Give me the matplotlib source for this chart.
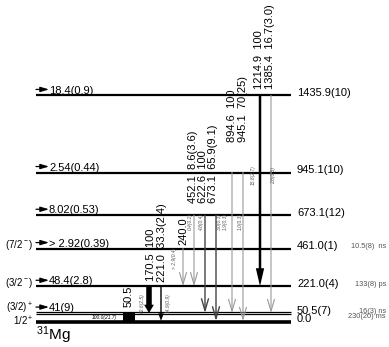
import matplotlib.pyplot as plt
import numpy as np

plt.rcParams['font.family'] = ['Liberation Sans', 'DejaVu Sans']
plt.rcParams['mathtext.fontset'] = 'custom'
plt.rcParams['mathtext.rm'] = 'Liberation Sans'
plt.rcParams['mathtext.it'] = 'Liberation Sans:italic'

# levels of 31Mg (keV)
level_energy = [0.0, 50.5, 221.0, 461.0, 673.1, 945.1, 1435.9]
level_label = ["0.0", "50.5(7)", "221.0(4)", "461.0(1)", "673.1(12)", "945.1(10)", "1435.9(10)"]
feeding = ["", "41(9)", "48.4(2.8)", "> 2.92(0.39)", "8.02(0.53)", "2.54(0.44)", "18.4(0.9)"]
spins = ["1/2$^+$", "(3/2)$^+$", "(3/2$^-$)", "(7/2$^-$)", "", "", ""]
lifetimes = ["230(20) ms", "16(3) ns", "133(8) ps", "10.5(8)  ns", "", "", ""]

# gamma transitions
gamma_energy = ["1214.9", "1385.4", "894.6", "945.1", "452.1", "622.6", "673.1", "240.0", "170.5", "221.0", "50.5"]
gamma_from = [1435.9, 1435.9, 945.1, 945.1, 673.1, 673.1, 673.1, 461.0, 221.0, 221.0, 50.5]
gamma_to = [221.0, 50.5, 50.5, 0.0, 221.0, 50.5, 0.0, 221.0, 50.5, 0.0, 0.0]
branching = ["100", "16.7(3.0)", "100", "70(25)", "8.6(3.6)", "100", "65.9(9.1)", "", "100", "33.3(2.4)", ""]
gamma_int = ["15.8(2.7)", "2.8(0.5)", "1.9(0.3)", "1.0(0.3)", "0.4(0.2)", "4.8(0.4)",
             "3.0(0.3)", "> 2.9(0.4)", "82.6(2.5)", "14.9(0.9)", "100.0(21.7)"]

# layout (pixels)
PX = 0.1571          # px per keV
Y0 = 321.0           # px of ground state
W, H = 389, 347


def e_at(p):
    return (Y0 - p) / PX


def dE(p):
    return p / PX


line_x = [260, 271, 232, 243, 194, 205, 216, 183, 149, 161, 129]
line_style = ['thick', 'gray', 'gray', 'gray', 'gray', 'dark', 'dark', 'gray', 'bar', 'black', 'block']
lab_pos = [(259, 89), (270, 89), (232, 142), (243, 142), (193, 203), (203, 203), (213, 203),
           (183, 245), (151, 281), (162, 282), (129, 307)]
int_pos = [(253, 175), (274, 175), (225, 222), (240, 222), (190, 222), (201, 222),
           (219, 222), (175, 258), (142, 303), (168, 303)]

fig = plt.figure(figsize=(W / 100, H / 100), dpi=100)
ax = fig.add_axes([0, 0, 1, 1])
ax.set_xlim(0, W)
ax.set_ylim(e_at(H), e_at(0))
ax.axis('off')

# levels
for i, E in enumerate(level_energy):
    if E == 0.0:
        ax.hlines(E - dE(0.5), 36, 291, color='black', lw=2.6)
    elif E == 50.5:
        ax.hlines([E + dE(1.0), E - dE(1.2)], 36, 291, color='black', lw=0.9)
    else:
        ax.hlines(E, 36, 291, color='black', lw=1.6)
    ax.text(297, E + dE(2.5), level_label[i], fontsize=8, va='center', ha='left')
    if lifetimes[i]:
        off = {0.0: 4, 50.5: 2}.get(E, 2)
        ax.text(386, E + dE(off), lifetimes[i], fontsize=5.3, color='#555555', va='center', ha='right')
    if spins[i]:
        off = {0.0: 0.0, 50.5: 4.5}.get(E, 3.5)
        ax.text(33, E + dE(off), spins[i], fontsize=7, va='center', ha='right')
    if feeding[i]:
        ax.annotate('', xy=(49, E + dE(6)), xytext=(36, E + dE(6)),
                    arrowprops=dict(arrowstyle='-|>,head_length=0.5,head_width=0.15',
                                    color='black', lw=0.9, shrinkA=0, shrinkB=0))
        ax.text(49, E + dE(1.8), feeding[i], fontsize=8, va='baseline', ha='left')

# transitions
for i in range(len(gamma_energy)):
    x = line_x[i]
    e1, e2 = gamma_from[i], gamma_to[i]
    st = line_style[i]
    if st == 'gray':
        ax.annotate('', xy=(x, e2), xytext=(x, e1),
                    arrowprops=dict(arrowstyle='->,head_length=0.85,head_width=0.25',
                                    color='#999999', lw=0.8, shrinkA=0, shrinkB=0))
    elif st == 'dark':
        ax.annotate('', xy=(x, e2), xytext=(x, e1),
                    arrowprops=dict(arrowstyle='->,head_length=0.85,head_width=0.25',
                                    color='#444444', lw=1.0, shrinkA=0, shrinkB=0))
    elif st == 'thick':
        ax.annotate('', xy=(x, e2), xytext=(x, e1),
                    arrowprops=dict(arrowstyle='simple,head_length=1.3,head_width=0.6,tail_width=0.18',
                                    fc='black', ec='none', shrinkA=0, shrinkB=0))
    elif st == 'bar':
        ax.annotate('', xy=(x, e2), xytext=(x, e1),
                    arrowprops=dict(arrowstyle='simple,head_length=0.6,head_width=0.7,tail_width=0.4',
                                    fc='black', ec='none', shrinkA=0, shrinkB=0))
    elif st == 'black':
        ax.annotate('', xy=(x, e2), xytext=(x, e1),
                    arrowprops=dict(arrowstyle='simple,head_length=0.55,head_width=0.4,tail_width=0.1',
                                    fc='black', ec='none', shrinkA=0, shrinkB=0))
    elif st == 'block':
        ax.bar(x, e1 - e2, width=12, bottom=e2, color='black')

    lx, ly = lab_pos[i]
    txt = gamma_energy[i] + ("  " + branching[i] if branching[i] else "")
    ax.text(lx, e_at(ly), txt, fontsize=8, rotation=90, ha='center', va='bottom')

    if st == 'block':
        ax.text(105, e_at(317.5), gamma_int[i], fontsize=3.5, style='italic',
                ha='center', va='center')
    else:
        ix, iy = int_pos[i]
        ax.text(ix, e_at(iy), gamma_int[i], fontsize=3.5, style='italic', color='#555555',
                rotation=90, ha='center', va='center')

ax.text(36, e_at(335.5), "$^{31}$Mg", fontsize=11, ha='left', va='center')

fig.savefig('out.png', dpi=100)
